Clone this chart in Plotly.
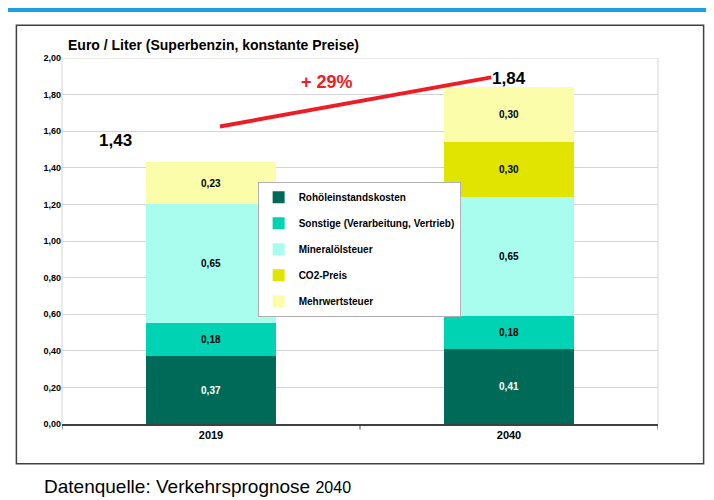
import plotly.graph_objects as go

years = ["2019", "2040"]
totals = [1.43, 1.84]
series = ["Rohöleinstandskosten", "Sonstige (Verarbeitung, Vertrieb)", "Mineralölsteuer", "CO2-Preis", "Mehrwertsteuer"]
rohoel = [0.37, 0.41]
sonstige = [0.18, 0.18]
mineral = [0.65, 0.65]
co2 = [0.00, 0.30]
mwst = [0.23, 0.30]
colors = ["#006a58", "#00d3b4", "#a8fdee", "#e0e400", "#fbfdaa"]
text_colors = ["white", "black", "black", "black", "black"]

OFF = 8  # page body margin


# pixel -> paper helpers (plot area 62..650 x, 58..416 y in the screenshot)
def px(x):
    return (x - 62) / 588


def py(y):
    return (416 - y) / 358


fig = go.Figure()
xs = [0, 1]
for i, (name, vals, col, tc) in enumerate(zip(series, [rohoel, sonstige, mineral, co2, mwst], colors, text_colors)):
    fig.add_trace(go.Bar(
        x=xs, y=vals, name=name, legendgroup=f"g{i}",
        marker=dict(color=col, line=dict(width=0)),
        width=0.435,
        text=[f"{v:.2f}".replace(".", ",") if v > 0 else "" for v in vals],
        textposition="inside", insidetextanchor="middle",
        textfont=dict(color=tc, size=10, family="Liberation Sans", weight="bold"),
    ))

label_pos = [(-0.32, 1.55), (1.0, 1.89)]
for (x, y), t in zip(label_pos, totals):
    fig.add_annotation(x=x, y=y, text=f"{t:.2f}".replace(".", ","), showarrow=False,
                       font=dict(size=17, color="black", family="Liberation Sans", weight="bold"))

# trend line
fig.add_shape(type="line", x0=0.03, y0=1.626, x1=0.94, y1=1.894,
              line=dict(color="#ee1c24", width=4))
fig.add_annotation(x=0.39, y=1.87, text="+ 29%", showarrow=False,
                   font=dict(size=18, color="#ee1c24", family="Liberation Sans", weight="bold"))

# frames
fig.add_shape(type="rect", xref="paper", yref="paper", x0=px(17), x1=px(695), y0=py(455), y1=py(26),
              line=dict(color="#404040", width=1.5), layer="below")
fig.add_shape(type="rect", xref="paper", yref="paper", x0=px(4), x1=px(711), y0=py(497), y1=py(11),
              line=dict(color="#1aa0e6", width=4), layer="below")

fig.add_annotation(xref="paper", yref="paper", x=px(66), y=py(45), xanchor="left", yanchor="middle",
                   text="Euro / Liter (Superbenzin, konstante Preise)", showarrow=False,
                   font=dict(size=14, color="black", family="Liberation Sans", weight="bold"))
fig.add_annotation(xref="paper", yref="paper", x=px(42), y=py(477), xanchor="left", yanchor="middle",
                   text="Datenquelle: Verkehrsprognose <span style='font-size:16px'>2040</span>", showarrow=False,
                   font=dict(size=19, color="black", family="Liberation Sans"))

fig.update_layout(
    barmode="stack", width=714 - OFF, height=500 - OFF,
    margin=dict(l=62 - OFF, r=64 - OFF, t=58 - OFF, b=84 - OFF),
    paper_bgcolor="white", plot_bgcolor="white",
    showlegend=True,
    legend=dict(x=px(255), y=py(179), xanchor="left", yanchor="top", traceorder="reversed+grouped",
                bgcolor="white", bordercolor="#b0b0b0", borderwidth=1,
                font=dict(size=10, family="Liberation Sans", color="black", weight="bold"),
                itemwidth=30, tracegroupgap=7),
    xaxis=dict(range=[-0.5, 1.5], tickvals=xs, ticktext=years, showgrid=False,
               showline=True, linecolor="#404040", linewidth=2,
               tickfont=dict(size=11, family="Liberation Sans", color="black", weight="bold")),
    yaxis=dict(range=[0, 2], dtick=0.2, tickformat=".2f", showgrid=True, gridcolor="#d4d4d4",
               zeroline=False, showline=False,
               tickfont=dict(size=9, family="Liberation Sans", color="black", weight="bold")),
    separators=",.",
    font=dict(family="Liberation Sans"),
)
# category boundary ticks
for xv in [-0.5, 0.5, 1.5]:
    fig.add_shape(type="line", x0=xv, x1=xv, yref="paper", y0=0, y1=-0.015,
                  line=dict(color="#404040", width=1))
fig.add_shape(type="line", xref="paper", x0=0, x1=1, y0=2, y1=2, line=dict(color="#d4d4d4", width=1))
fig.add_shape(type="line", xref="paper", x0=1, x1=1, yref="paper", y0=0, y1=1, line=dict(color="#d4d4d4", width=1))
fig.add_shape(type="line", xref="paper", x0=0, x1=0, yref="paper", y0=0, y1=1, line=dict(color="#d4d4d4", width=1))

fig.write_html("out.html")
